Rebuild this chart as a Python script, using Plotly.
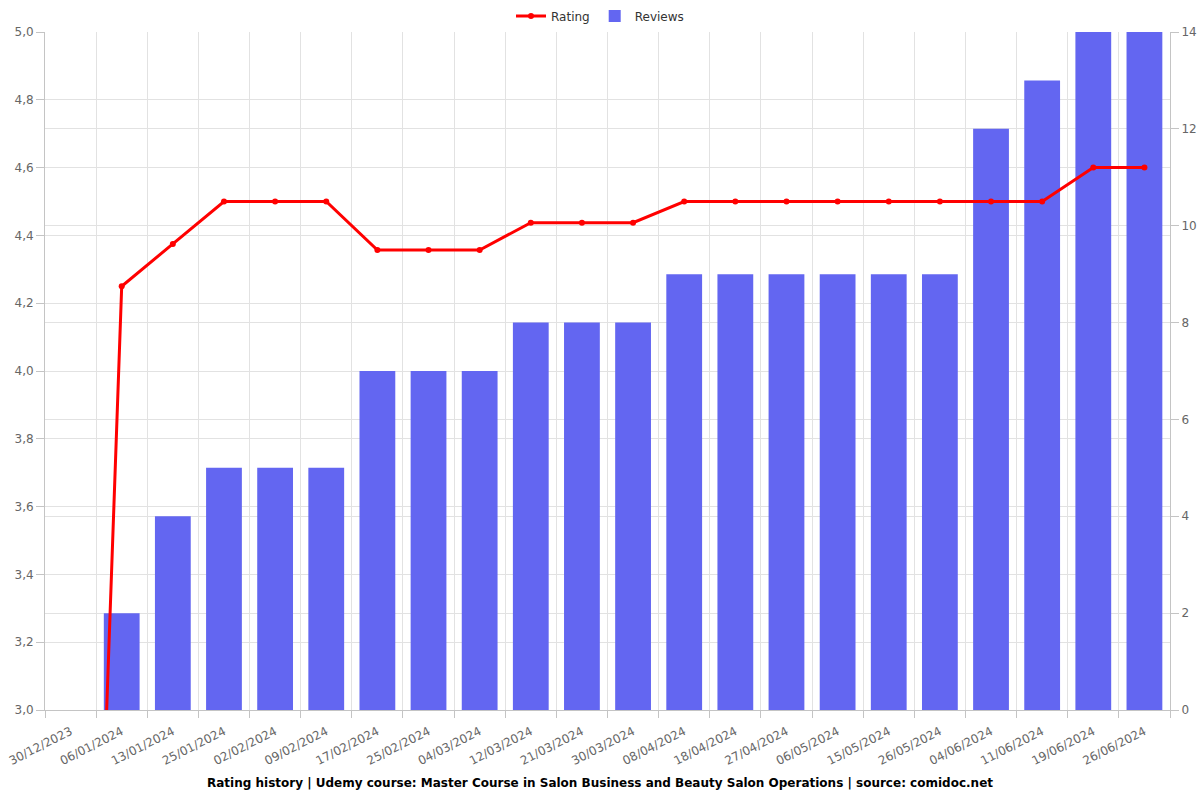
import plotly.graph_objects as go

dates = ["30/12/2023", "06/01/2024", "13/01/2024", "25/01/2024", "02/02/2024", "09/02/2024",
         "17/02/2024", "25/02/2024", "04/03/2024", "12/03/2024", "21/03/2024", "30/03/2024",
         "08/04/2024", "18/04/2024", "27/04/2024", "06/05/2024", "15/05/2024", "26/05/2024",
         "04/06/2024", "11/06/2024", "19/06/2024", "26/06/2024"]
rating = [0, 4.25, 4.375, 4.5, 4.5, 4.5, 4.357, 4.357, 4.357, 4.4375, 4.4375, 4.4375,
          4.5, 4.5, 4.5, 4.5, 4.5, 4.5, 4.5, 4.5, 4.6, 4.6]
reviews = [0, 2, 4, 5, 5, 5, 7, 7, 7, 8, 8, 8, 9, 9, 9, 9, 9, 9, 12, 13, 14, 14]
title = "Rating history | Udemy course: Master Course in Salon Business and Beauty Salon Operations | source: comidoc.net"

FONT = "DejaVu Sans"
GRID = "#e2e2e2"
AXIS = "#c4c4c4"
TICKC = "#666666"

fig = go.Figure()
fig.add_trace(go.Scatter(
    x=dates, y=rating, name="Rating", mode="lines+markers",
    line=dict(color="#ff0000", width=3), marker=dict(color="#ff0000", size=6),
    yaxis="y2"))
fig.add_trace(go.Bar(
    x=dates, y=reviews, name="Reviews",
    marker=dict(color="#6366f1", line=dict(width=0)),
    yaxis="y"))

fig.update_layout(
    width=1200, height=800,
    margin=dict(l=45, r=30, t=32, b=90, autoexpand=False),
    paper_bgcolor="white", plot_bgcolor="white",
    separators=", ",
    font=dict(family=FONT, size=12, color=TICKC),
    bargap=0.3,
    showlegend=True,
    legend=dict(orientation="h", xref="container", x=0.5, xanchor="center", yref="container",
                y=1 - 16 / 800, yanchor="middle",
                font=dict(family=FONT, size=12, color="#333333"), traceorder="normal"),
    xaxis=dict(type="category", tickson="boundaries", showgrid=True, gridcolor=GRID,
               showline=True, linecolor=AXIS, ticks="outside", ticklen=7, tickcolor=AXIS,
               tickangle=-27, ticklabelstandoff=9,
               tickfont=dict(family=FONT, size=12, color=TICKC),
               range=[-0.5, len(dates) - 0.5], automargin=False),
    yaxis=dict(side="right", range=[0, 14], dtick=2, showgrid=True, gridcolor=GRID,
               showline=True, linecolor=AXIS, ticks="outside", ticklen=8, tickcolor=AXIS,
               zeroline=False, automargin=False,
               tickfont=dict(family=FONT, size=12, color=TICKC)),
    yaxis2=dict(side="left", overlaying="y", range=[3, 5], dtick=0.2, tickformat=".1f",
                showgrid=True, gridcolor=GRID, showline=True, linecolor=AXIS,
                ticks="outside", ticklen=8, tickcolor=AXIS, zeroline=False, automargin=False,
                tickfont=dict(family=FONT, size=12, color=TICKC)),
    annotations=[dict(text="<b>" + title + "</b>", xref="paper", yref="paper",
                      x=(600 - 45) / 1125, y=-0.1077, xanchor="center", yanchor="middle",
                      showarrow=False, font=dict(family=FONT, size=12, color="#000000"))],
)

fig.write_html("out.html")
